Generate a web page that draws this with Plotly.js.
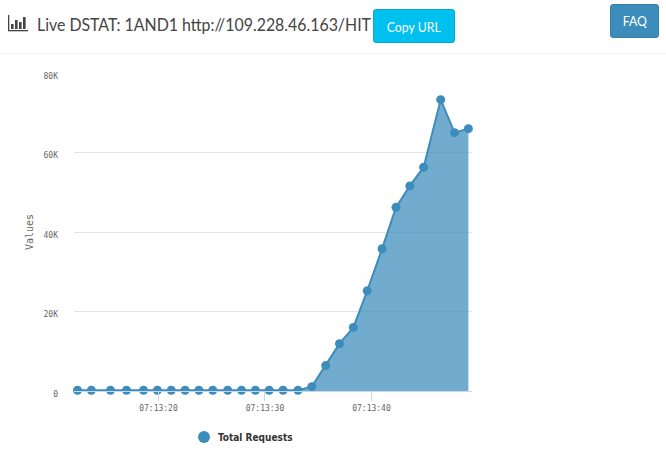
<!DOCTYPE html>
<html><head><meta charset="utf-8">
<script src="https://cdn.plot.ly/plotly-3.0.1.min.js"></script>
<style>
html,body{margin:0;padding:0;background:#fff;width:666px;height:465px;overflow:hidden;font-family:"Lato",sans-serif}
#chart{position:absolute;left:0;top:0;width:666px;height:465px}
#rule{position:absolute;left:0;top:53px;width:666px;height:1px;background:#f4f4f4}
#heading{position:absolute;left:37px;top:12px;font-size:18px;line-height:25px;color:#444;white-space:nowrap;transform-origin:left center}
#icon{position:absolute;left:8px;top:15px}
.btn{position:absolute;color:#fff;font-size:14px;text-align:center;border-radius:3px;box-sizing:border-box}
.btn span{display:inline-block;transform:scaleX(.88)}
#copy{left:373px;top:9px;width:82px;height:34px;line-height:34px;background:#00c0ef;border:1px solid #00acd6}
#faq{left:610px;top:4px;width:49px;height:34px;line-height:32px;background:#3c8dbc;border:1px solid #367fa9}
</style></head><body>
<div id="chart"></div>
<div id="rule"></div>
<svg id="icon" width="21" height="17" viewBox="0 0 21 17"><g fill="#444"><rect x="0" y="0" width="1.3" height="16"/><rect x="0" y="15" width="20" height="1.3"/><rect x="3" y="9" width="2.6" height="5"/><rect x="7" y="5" width="2.6" height="9"/><rect x="11" y="7" width="2.6" height="7"/><rect x="15" y="2" width="2.6" height="12"/></g></svg>
<div id="heading">Live DSTAT: 1AND1 http://109.228.46.163/HIT</div>
<div id="copy" class="btn"><span>Copy URL</span></div>
<div id="faq" class="btn"><span>FAQ</span></div>
<script>
const heading = document.getElementById("heading");
heading.style.transform = "scaleX(" + (334 / heading.getBoundingClientRect().width) + ")";
const times = ["12.4","13.7","15.5","17.0","18.6","19.9","21.2","22.5","23.8","25.1","26.5","27.8","29.1","30.4","31.7","33.1","34.4","35.7","37.0","38.3","39.6","41.0","42.3","43.6","44.9","46.5","47.8","49.1"];
const totalRequests = [200,200,200,200,200,200,200,200,200,200,200,200,200,200,200,200,1100,6400,11900,16000,25200,35800,46200,51600,56300,73300,65000,66000];
const yTickValues = [0,20000,40000,60000,80000];
const yTickLabels = ["0","20K","40K","60K","80K"];
const xTickValues = ["2020-01-01 07:13:20","2020-01-01 07:13:30","2020-01-01 07:13:40"];
const xTickLabels = ["07:13:20","07:13:30","07:13:40"];
const seriesName = "Total Requests";
const yTitle = "Values";
const stamp = s => "2020-01-01 07:13:" + s;
const blue = "#3c8dbc";
const tickFont = {family:'"DejaVu Sans Mono",monospace',size:8,color:"#666"};
Plotly.newPlot("chart",[
 {x:times.map(stamp),y:totalRequests,type:"scatter",mode:"lines+markers",fill:"tozeroy",name:seriesName,
  fillcolor:"rgba(60,141,188,0.73)",line:{color:blue,width:2},marker:{color:blue,size:9},
  showlegend:false,cliponaxis:false,hoverinfo:"x+y"}
],{
 width:666,height:465,margin:{l:74,r:194,t:73,b:74},
 paper_bgcolor:"rgba(0,0,0,0)",plot_bgcolor:"rgba(0,0,0,0)",
 xaxis:{type:"date",range:["2020-01-01 07:13:12.07","2020-01-01 07:13:49.44"],tickmode:"array",tickvals:xTickValues,ticktext:xTickLabels,
  ticks:"outside",ticklen:9,tickcolor:"#ccd6eb",tickwidth:1,showgrid:false,showline:true,linecolor:"#ccd6eb",linewidth:1,zeroline:false,tickfont:tickFont},
 yaxis:{range:[0,80000],tickmode:"array",tickvals:yTickValues,ticktext:yTickLabels,gridcolor:"#e6e6e6",gridwidth:1,zeroline:false,
  ticks:"",ticklabelstandoff:15,ticklabelshift:3,tickfont:tickFont,
  title:{text:yTitle,font:{family:'"DejaVu Sans Mono",monospace',size:10,color:"#666"},standoff:8}},
 showlegend:false,
 shapes:[{type:"circle",xref:"paper",yref:"paper",x0:(198-74)/398,x1:(210-74)/398,y0:(391-443)/318,y1:(391-431)/318,fillcolor:blue,line:{width:0}}],
 annotations:[{text:seriesName,xref:"paper",yref:"paper",x:(217-74)/398,y:(391-437.5)/318,xanchor:"left",yanchor:"middle",showarrow:false,borderpad:0,
  font:{family:'"DejaVu Sans Condensed","DejaVu Sans",sans-serif',size:10,color:"#333",weight:700}}]
},{displayModeBar:false,staticPlot:true});
</script>
</body></html>
